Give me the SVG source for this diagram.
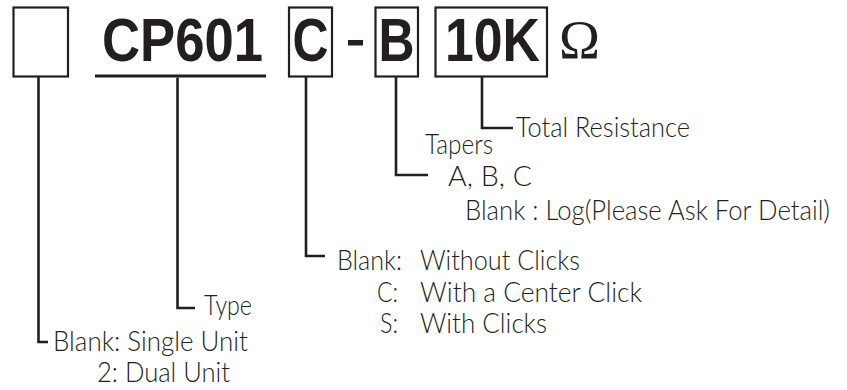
<svg xmlns="http://www.w3.org/2000/svg" width="847" height="390" viewBox="0 0 847 390">
<style>
.box{fill:none;stroke:#231f20;stroke-width:2.2}
.big{font-family:"Liberation Sans",Arial,sans-serif;font-weight:bold;font-size:61px;fill:#231f20}
.lbl{font-family:Lato,"Open Sans","Liberation Sans",sans-serif;font-weight:300;font-size:26.5px;fill:#231f20}
.conn{fill:none;stroke:#231f20;stroke-width:2.6}
</style>
<rect width="847" height="390" fill="#ffffff"/>
<g id="node-unit">
  <rect class="box" x="13.5" y="7.5" width="54.5" height="69"/>
</g>
<g id="node-cp601">
  <text class="big" x="102" y="61" textLength="161" lengthAdjust="spacingAndGlyphs">CP601</text>
  <line x1="95" y1="76" x2="266" y2="76" stroke="#231f20" stroke-width="3"/>
</g>
<g id="node-c">
  <rect class="box" x="289" y="7.5" width="43" height="69"/>
  <text class="big" x="292.5" y="61" textLength="36" lengthAdjust="spacingAndGlyphs">C</text>
</g>
<g id="node-dash">
  <rect x="348" y="40" width="15" height="5.5" fill="#231f20"/>
</g>
<g id="node-b">
  <rect class="box" x="375.5" y="7.5" width="42.5" height="69"/>
  <text class="big" x="378.5" y="61" textLength="36" lengthAdjust="spacingAndGlyphs">B</text>
</g>
<g id="node-10k">
  <rect class="box" x="435.5" y="7.5" width="111.5" height="69"/>
  <text class="big" x="445" y="61" textLength="95" lengthAdjust="spacingAndGlyphs">10K</text>
</g>
<g id="node-ohm">
  <text x="559" y="58" font-family="'Liberation Serif','Times New Roman',serif" font-size="55" fill="#231f20" textLength="41" lengthAdjust="spacingAndGlyphs">Ω</text>
</g>
<g id="connectors">
  <path class="conn" d="M38.5,77 V342 H48"/>
  <path class="conn" d="M177.5,77.5 V308 H195"/>
  <path class="conn" d="M306,77 V256 H325"/>
  <path class="conn" d="M396,77 V175 H428"/>
  <path class="conn" d="M482,77 V128 H513"/>
</g>
<g id="label-total">
  <text class="lbl" x="516" y="137" textLength="174" lengthAdjust="spacingAndGlyphs">Total Resistance</text>
</g>
<g id="label-tapers">
  <text class="lbl" x="425" y="154" textLength="68" lengthAdjust="spacingAndGlyphs">Tapers</text>
  <text class="lbl" x="448" y="186" textLength="84" lengthAdjust="spacingAndGlyphs">A, B, C</text>
  <text class="lbl" x="465" y="220" textLength="365" lengthAdjust="spacingAndGlyphs">Blank : Log(Please Ask For Detail)</text>
</g>
<g id="label-clicks">
  <text class="lbl" x="337" y="270" textLength="65" lengthAdjust="spacingAndGlyphs">Blank:</text>
  <text class="lbl" x="420" y="270" textLength="160" lengthAdjust="spacingAndGlyphs">Without Clicks</text>
  <text class="lbl" x="377" y="302" textLength="21" lengthAdjust="spacingAndGlyphs">C:</text>
  <text class="lbl" x="420" y="302" textLength="222" lengthAdjust="spacingAndGlyphs">With a Center Click</text>
  <text class="lbl" x="380" y="333" textLength="18" lengthAdjust="spacingAndGlyphs">S:</text>
  <text class="lbl" x="420" y="333" textLength="127" lengthAdjust="spacingAndGlyphs">With Clicks</text>
</g>
<g id="label-type">
  <text class="lbl" x="204" y="315" textLength="48" lengthAdjust="spacingAndGlyphs">Type</text>
</g>
<g id="label-unit">
  <text class="lbl" x="53" y="351" textLength="195" lengthAdjust="spacingAndGlyphs">Blank: Single Unit</text>
  <text class="lbl" x="97" y="382" textLength="133" lengthAdjust="spacingAndGlyphs">2: Dual Unit</text>
</g>
</svg>
